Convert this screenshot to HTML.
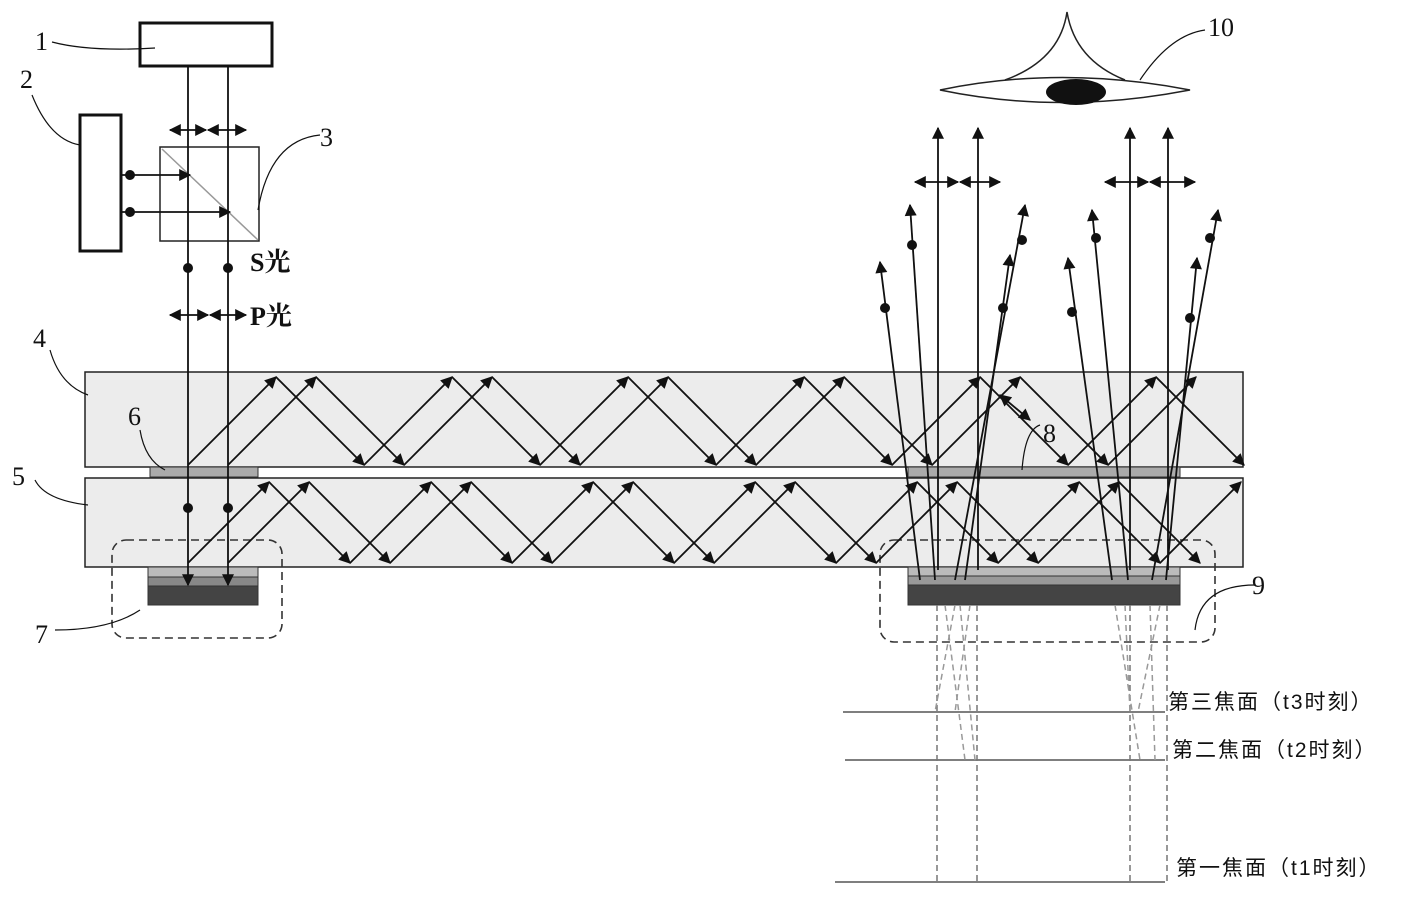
<!DOCTYPE html>
<html><head><meta charset="utf-8"><style>
html,body{margin:0;padding:0;background:#fff;width:1417px;height:899px;overflow:hidden}
svg{display:block}
text{font-family:"Liberation Serif","Noto Serif CJK SC",serif;fill:#111}
.cj{font-family:"Liberation Serif","Noto Serif CJK SC",serif}
.cs{font-family:"Liberation Sans","Noto Sans CJK SC",sans-serif}
</style></head><body>
<svg id="s" width="1417" height="899" viewBox="0 0 1417 899" xmlns="http://www.w3.org/2000/svg">
<defs>
<marker id="b" viewBox="0 0 10 10" refX="9" refY="5" markerWidth="14" markerHeight="12" orient="auto-start-reverse" markerUnits="userSpaceOnUse"><path d="M0,0L10,5L0,10z" fill="#111"/></marker>
</defs>
<rect x="85" y="372" width="1158" height="95" fill="#ececec" stroke="#222" stroke-width="1.5"/>
<rect x="85" y="478" width="1158" height="89" fill="#ececec" stroke="#222" stroke-width="1.5"/>
<rect x="150" y="467" width="108" height="10" fill="#aaa" stroke="#333"/>
<rect x="908" y="467" width="272" height="10" fill="#aaa" stroke="#333"/>
<rect x="148" y="567" width="110" height="10" fill="#bbb" stroke="#333"/>
<rect x="148" y="577" width="110" height="9" fill="#888" stroke="#333"/>
<rect x="148" y="586" width="110" height="19" fill="#444" stroke="#333"/>
<rect x="908" y="567" width="272" height="9" fill="#bbb" stroke="#333"/>
<rect x="908" y="576" width="272" height="9" fill="#999" stroke="#333"/>
<rect x="908" y="585" width="272" height="20" fill="#444" stroke="#333"/>
<rect x="112" y="540" width="170" height="98" rx="14" fill="none" stroke="#333" stroke-width="1.6" stroke-dasharray="8,5"/>
<rect x="880" y="540" width="335" height="102" rx="14" fill="none" stroke="#333" stroke-width="1.6" stroke-dasharray="8,5"/>
<rect x="140" y="23" width="132" height="43" fill="#fff" stroke="#111" stroke-width="3"/>
<rect x="80" y="115" width="41" height="136" fill="#fff" stroke="#111" stroke-width="3"/>
<rect x="160" y="147" width="99" height="94" fill="none" stroke="#222" stroke-width="1.5"/>
<line x1="162" y1="149" x2="258" y2="240" stroke="#999" stroke-width="1.5"/>
<line x1="843" y1="712" x2="1165" y2="712" stroke="#555" stroke-width="1.5"/>
<line x1="845" y1="760" x2="1165" y2="760" stroke="#555" stroke-width="1.5"/>
<line x1="835" y1="882" x2="1165" y2="882" stroke="#555" stroke-width="1.5"/>
<path d="M940,90 Q1060,65 1190,90 Q1060,115 940,90z" fill="#fff" stroke="#222" stroke-width="1.5"/>
<path d="M1005,80 Q1060,60 1067,12 Q1075,60 1125,80" fill="none" stroke="#222" stroke-width="1.5"/>
<ellipse cx="1076" cy="92" rx="30" ry="13" fill="#111"/>
<g id="g" stroke="#111" stroke-width="1.8" fill="none"></g>
<text x="35" y="50" font-size="26">1</text>
<text x="20" y="88" font-size="26">2</text>
<text x="320" y="146" font-size="26">3</text>
<text x="33" y="347" font-size="26">4</text>
<text x="12" y="485" font-size="26">5</text>
<text x="128" y="425" font-size="26">6</text>
<text x="35" y="643" font-size="26">7</text>
<text x="1043" y="442" font-size="26">8</text>
<text x="1252" y="594" font-size="26">9</text>
<text x="1208" y="36" font-size="26">10</text>
<text x="250" y="271" font-size="26" font-weight="bold" class="cj">S光</text>
<text x="250" y="325" font-size="26" font-weight="bold" class="cj">P光</text>
<text x="1168" y="709" font-size="21" class="cs" letter-spacing="2">第三焦面（t3时刻）</text>
<text x="1172" y="757" font-size="21" class="cs" letter-spacing="2">第二焦面（t2时刻）</text>
<text x="1176" y="875" font-size="21" class="cs" letter-spacing="2">第一焦面（t1时刻）</text>
</svg>
<script>
var g=document.getElementById('g'),NS='http://www.w3.org/2000/svg';
function el(t,a){var e=document.createElementNS(NS,t);for(var k in a)e.setAttribute(k,a[k]);g.appendChild(e);return e}
function L(x1,y1,x2,y2,end,start,dash,col){var a={x1:x1,y1:y1,x2:x2,y2:y2};if(end)a['marker-end']='url(#b)';if(start)a['marker-start']='url(#b)';if(dash){a['stroke-dasharray']='6,4';a.stroke=col||'#777';a['stroke-width']=1.5}el('line',a)}
function dot(x,y){el('circle',{cx:x,cy:y,r:5,fill:'#111',stroke:'none'})}
function dbl(x1,x2,y){L(x1,y,x2,y,1,1)}
function lead(d){el('path',{d:d,'stroke-width':1.2})}
lead('M52,42 Q90,52 155,48');lead('M32,95 Q50,140 80,145');lead('M258,210 Q270,140 320,135');
lead('M50,350 Q60,385 88,395');lead('M35,480 Q45,500 88,505');lead('M140,430 Q145,460 165,470');
lead('M55,630 Q110,630 140,610');lead('M1040,425 Q1025,430 1022,470');lead('M1195,630 Q1200,585 1255,585');
lead('M1140,80 Q1170,35 1205,30');
L(188,66,188,585,1);L(228,66,228,585,1);
dbl(170,206,130);dbl(208,246,130);dbl(170,208,315);dbl(210,246,315);
L(121,175,190,175,1);L(121,212,230,212,1);dot(130,175);dot(130,212);
dot(188,268);dot(228,268);dot(188,508);dot(228,508);
function zig(x0,yb,yt,xend){var x=x0,y=yb,up=true;while(x<xend){var nx=x+(yb-yt);var ny=up?yt:yb;L(x,y,nx,ny,1);x=nx;y=ny;up=!up}}
zig(188,465,377,1170);zig(228,465,377,1160);
zig(188,563,482,1170);zig(228,563,482,1160);
[[938,570,938,128],[978,570,978,128],[1130,570,1130,128],[1168,570,1168,128]].forEach(function(r){L(r[0],r[1],r[2],r[3],1)});
dbl(915,958,182);dbl(960,1000,182);dbl(1105,1148,182);dbl(1150,1195,182);
var fan=[[920,580,880,262,885,308],[935,580,910,205,912,245],[955,580,1025,205,1022,240],[965,580,1010,255,1003,308],[1112,580,1068,258,1072,312],[1128,580,1092,210,1096,238],[1152,580,1218,210,1210,238],[1166,580,1197,258,1190,318]];
fan.forEach(function(f){L(f[0],f[1],f[2],f[3],1);dot(f[4],f[5])});
L(1000,395,1030,420,1,1);
[937,977,1130,1167].forEach(function(x){L(x,605,x,882,0,0,1)});
L(945,605,965,760,0,0,1,'#999');L(955,605,935,712,0,0,1,'#999');L(970,605,955,712,0,0,1,'#999');L(960,605,975,760,0,0,1,'#999');
L(1115,605,1140,760,0,0,1,'#999');L(1125,605,1130,712,0,0,1,'#999');L(1150,605,1155,760,0,0,1,'#999');L(1160,605,1138,712,0,0,1,'#999');
</script>
</body></html>
